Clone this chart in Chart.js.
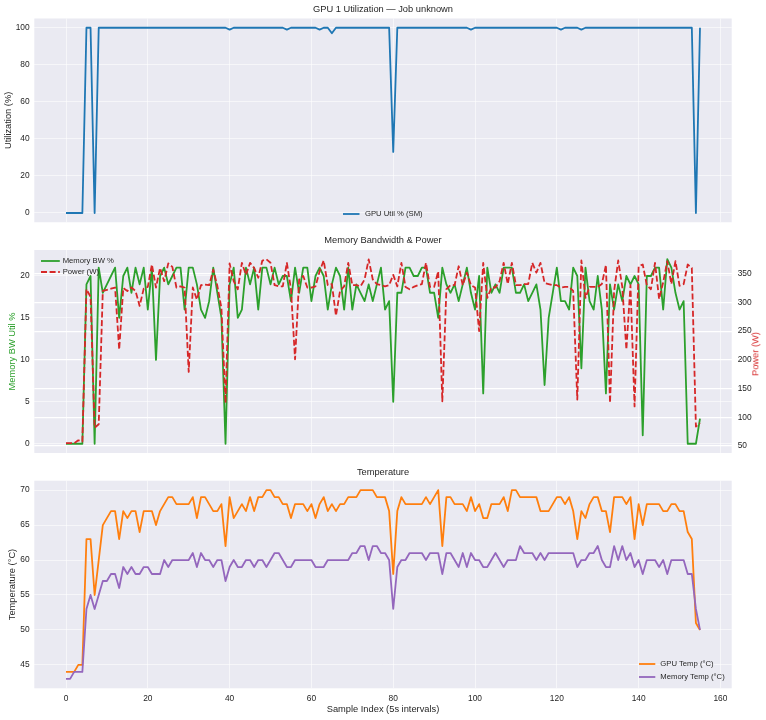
<!DOCTYPE html>
<html><head><meta charset="utf-8">
<script src="https://cdn.jsdelivr.net/npm/chart.js@4.4.1/dist/chart.umd.min.js"></script>
<style>
html,body{margin:0;padding:0;background:#fff;}
#fig{position:relative;width:766px;height:720px;overflow:hidden;font-family:"Liberation Sans",Arial,sans-serif;color:#262626;}
canvas{position:absolute;left:0;}
.ttl{position:absolute;left:34.3px;width:697.4px;text-align:center;font-size:9.3px;line-height:1;transform:translateY(-50%);white-space:nowrap;}
.lt{position:absolute;font-size:7.7px;line-height:1;transform:translateY(-50%);white-space:nowrap;color:#262626;}
.sw{position:absolute;overflow:visible;}
.rlab{position:absolute;font-size:9.3px;line-height:1;white-space:nowrap;color:#d62728;transform:translate(-50%,-50%) rotate(-90deg);}
</style>
</head><body>
<div id="fig">
  <canvas id="c1" width="766" height="232" style="top:0px"></canvas>
  <canvas id="c2" width="766" height="232" style="top:232px"></canvas>
  <canvas id="c3" width="766" height="256" style="top:464px"></canvas>

  <div class="ttl" style="top:10px">GPU 1 Utilization — Job unknown</div>
  <div class="ttl" style="top:240.5px">Memory Bandwidth &amp; Power</div>
  <div class="ttl" style="top:473.3px">Temperature</div>
  <div class="rlab" style="left:755.7px;top:354px">Power (W)</div>

  <svg class="sw" style="left:343px;top:209px" width="17" height="10"><line x1="0" y1="5" x2="16.5" y2="5" stroke="#1f77b4" stroke-width="1.8"/></svg>
  <div class="lt" style="left:365px;top:214px">GPU Util % (SM)</div>

  <svg class="sw" style="left:40.5px;top:256px" width="20" height="10"><line x1="0" y1="5" x2="18.8" y2="5" stroke="#2ca02c" stroke-width="1.8"/></svg>
  <div class="lt" style="left:62.7px;top:261px">Memory BW %</div>
  <svg class="sw" style="left:40.5px;top:267.3px" width="20" height="10"><line x1="0" y1="5" x2="18.8" y2="5" stroke="#d62728" stroke-width="1.8" stroke-dasharray="6 2.6"/></svg>
  <div class="lt" style="left:62.7px;top:272.3px">Power (W)</div>

  <svg class="sw" style="left:638.7px;top:659.3px" width="18" height="10"><line x1="0" y1="5" x2="16.3" y2="5" stroke="#ff7f0e" stroke-width="1.8"/></svg>
  <div class="lt" style="left:660.3px;top:664.3px">GPU Temp (°C)</div>
  <svg class="sw" style="left:638.7px;top:671.7px" width="18" height="10"><line x1="0" y1="5" x2="16.3" y2="5" stroke="#9467bd" stroke-width="1.8"/></svg>
  <div class="lt" style="left:660.3px;top:676.7px">Memory Temp (°C)</div>
</div>
<script>
// ---- data (sample index 0..155, one value per 5 s sample) ----
const gpuUtil = [0,0,0,0,0,100,100,0,100,100,100,100,100,100,100,100,100,100,100,100,
100,100,100,100,100,100,100,100,100,100,100,100,100,100,100,100,100,100,100,100,
99,100,100,100,100,100,100,100,100,100,100,100,100,100,99,100,100,100,100,100,
100,100,99,100,100,97,100,100,100,100,100,100,100,100,100,100,100,100,100,100,
33,100,100,100,100,100,100,100,100,100,100,100,100,100,100,100,100,100,100,99,
100,100,100,100,100,100,100,100,100,100,100,100,100,100,100,100,100,100,100,100,
100,99,100,100,100,100,99,100,100,100,100,100,100,100,100,100,100,100,100,100,
100,100,100,100,100,100,100,100,100,100,100,100,100,100,0,100];

const memBw = [0,0,0,0,0,19,20,0,21,18,19,20,21,15,20,21,18,21,19,21,
16,21,10,20,21,19,20,21,21,16,21,21,19,16,15,17,21,18,15,0,
19,21,15,16,21,19,21,16,21,21,19,21,19,20,20,17,21,18,21,21,
17,20,21,20,16,19,21,20,16,21,16,19,18,17,19,17,19,21,16,17,
5,18,18,21,21,20,20,21,21,18,18,15,21,19,18,19,17,19,21,18,
16,20,6,21,18,19,18,21,21,21,18,18,19,17,18,19,16,7,15,18,
21,17,17,16,21,20,9,21,17,16,20,16,6,19,16,19,17,20,19,20,
19,1,20,20,21,21,16,22,21,18,16,17,0,0,0,3];

const powerW = [55,55,55,60,58,323,310,82,88,320,322,324,326,218,325,320,326,320,294,324,
327,366,326,360,337,368,362,326,328,326,179,326,305,330,331,330,357,329,290,125,
368,337,323,369,348,369,360,343,373,375,369,330,328,328,369,323,201,340,346,326,
326,328,354,373,330,332,277,320,328,369,330,330,328,340,375,340,332,330,328,330,
348,328,369,327,323,327,330,332,369,327,327,354,128,323,330,330,363,330,352,330,
326,250,369,308,326,326,337,369,332,369,330,330,332,332,369,352,369,334,332,330,
330,326,327,327,320,131,373,308,327,327,327,332,365,125,320,373,327,218,330,119,
363,366,330,323,369,306,335,372,332,372,329,332,366,360,84,90];

const gpuTemp = [44,44,44,45,45,63,63,55,60,65,66,67,67,63,67,66,67,67,64,67,
67,67,65,67,68,69,69,68,68,68,68,69,66,69,69,68,67,67,68,62,
69,66,67,68,67,69,67,69,69,70,70,69,69,68,68,66,68,68,68,67,
68,66,68,69,67,68,67,68,68,69,69,69,70,70,70,70,69,69,69,67,
58,67,69,68,68,68,68,68,69,68,69,70,62,69,69,68,68,68,67,69,
67,68,66,66,68,68,68,69,67,70,70,69,69,69,69,69,67,67,67,68,
69,69,68,69,67,63,67,66,68,69,69,67,67,64,69,69,69,68,69,63,
68,65,68,68,68,68,67,67,68,68,67,67,64,63,51,50];

const memTemp = [43,43,44,44,44,53,55,53,55,57,57,58,58,56,59,58,59,58,58,59,
59,58,58,58,60,59,60,60,60,60,60,61,59,61,60,60,59,60,60,57,
59,60,59,59,60,60,59,60,60,59,60,61,61,60,59,59,60,60,60,60,
60,59,59,59,60,60,60,60,60,60,61,61,62,62,60,62,62,61,61,60,
53,59,60,60,61,61,61,61,60,61,61,61,58,61,61,60,59,61,59,61,
60,60,59,59,60,61,60,59,60,60,60,62,61,61,61,60,61,60,61,61,
61,61,61,61,61,59,60,60,61,61,62,60,59,59,62,60,62,60,61,59,
60,58,60,60,60,59,60,58,60,60,60,60,58,58,53,50];

const xTicks = [0,20,40,60,80,100,120,140,160];
const utilTicks = [0,20,40,60,80,100];
const bwTicks = [0,5,10,15,20];
const powerTicks = [50,100,150,200,250,300,350];
const tempTicks = [45,50,55,60,65,70];
const sampleIndex = gpuUtil.map((_, i) => i);

// ---- styling ----
Chart.defaults.font.family = '"Liberation Sans", Arial, sans-serif';
Chart.defaults.color = '#262626';
const FAINT = 'rgba(255,255,255,0.55)';
const TXT = '#262626';

const bgPlugin = {
  id: 'plotbg',
  beforeDraw(chart) {
    const {ctx, chartArea: a} = chart;
    ctx.save();
    ctx.fillStyle = '#EAEAF2';
    ctx.fillRect(a.left, a.top, a.right - a.left, a.bottom - a.top);
    ctx.restore();
  }
};

function xScale(showLabels, h) {
  return {
    type: 'linear', min: -7.75, max: 162.75,
    afterBuildTicks: s => { s.ticks = xTicks.map(v => ({value: v})); },
    afterFit: s => { s.height = h; },
    grid: {color: FAINT, lineWidth: 1, drawTicks: false},
    border: {display: false},
    ticks: {display: showLabels, font: {size: 8.4}, padding: 5, color: TXT, maxRotation: 0, autoSkip: false},
    title: showLabels ? {display: true, text: 'Sample Index (5s intervals)', font: {size: 9.3}, color: TXT, padding: {top: 0, bottom: 5.1}} : {display: false}
  };
}

function yScale(opts) {
  return {
    type: 'linear', position: opts.position || 'left', min: opts.min, max: opts.max,
    afterBuildTicks: s => { s.ticks = opts.ticks.map(v => ({value: v})); },
    afterFit: s => { s.width = 34.3; },
    grid: {color: opts.gridColor || FAINT, lineWidth: opts.gridWidth || 1, drawTicks: false},
    border: {display: false},
    ticks: {font: {size: 8.4}, padding: opts.tickPad, color: TXT, autoSkip: false},
    title: opts.title ? {display: true, text: opts.title, color: opts.titleColor || TXT, font: {size: 9.3}, padding: {top: opts.titlePad, bottom: 0}} : {display: false}
  };
}

function line(data, color, extra) {
  return Object.assign({
    data: data, borderColor: color, backgroundColor: color, borderWidth: 1.8,
    pointRadius: 0, tension: 0, fill: false, borderJoinStyle: 'round', borderCapStyle: 'butt'
  }, extra || {});
}

const common = {
  responsive: false, animation: false, events: [],
  plugins: {legend: {display: false}, tooltip: {enabled: false}, title: {display: false}}
};

// Panel 1
new Chart(document.getElementById('c1'), {
  type: 'line',
  data: {labels: sampleIndex, datasets: [line(gpuUtil, '#1f77b4')]},
  options: Object.assign({}, common, {
    layout: {padding: {top: 18.5, right: 34.3, left: 0, bottom: 0}},
    scales: {
      x: xScale(false, 6.1),
      y: yScale({min: -5, max: 105, ticks: utilTicks, tickPad: 4.7, title: 'Utilization (%)', titlePad: 2.7})
    }
  }),
  plugins: [bgPlugin]
});

// Panel 2
new Chart(document.getElementById('c2'), {
  type: 'line',
  data: {labels: sampleIndex, datasets: [
    line(powerW, '#d62728', {yAxisID: 'y2', borderDash: [6, 2.6], order: 0}),
    line(memBw, '#2ca02c', {yAxisID: 'y', order: 1})
  ]},
  options: Object.assign({}, common, {
    layout: {padding: {top: 18, right: 0, left: 0, bottom: 0}},
    scales: {
      x: xScale(false, 6.3),
      y: yScale({min: -1.1, max: 23.1, ticks: bwTicks, tickPad: 4.7, title: 'Memory BW Util %', titleColor: '#2ca02c', titlePad: 7.1}),
      y2: yScale({position: 'right', min: 38, max: 391.3, ticks: powerTicks, tickPad: 6, gridColor: '#ffffff', gridWidth: 1.3})
    }
  }),
  plugins: [bgPlugin]
});

// Panel 3
new Chart(document.getElementById('c3'), {
  type: 'line',
  data: {labels: sampleIndex, datasets: [
    line(memTemp, '#9467bd', {order: 0}),
    line(gpuTemp, '#ff7f0e', {order: 1})
  ]},
  options: Object.assign({}, common, {
    layout: {padding: {top: 16.7, right: 34.3, left: 0, bottom: 0}},
    scales: {
      x: xScale(true, 31.7),
      y: yScale({min: 41.65, max: 71.35, ticks: tempTicks, tickPad: 4.7, title: 'Temperature (°C)', titlePad: 7.1})
    }
  }),
  plugins: [bgPlugin]
});
</script>
</body></html>
